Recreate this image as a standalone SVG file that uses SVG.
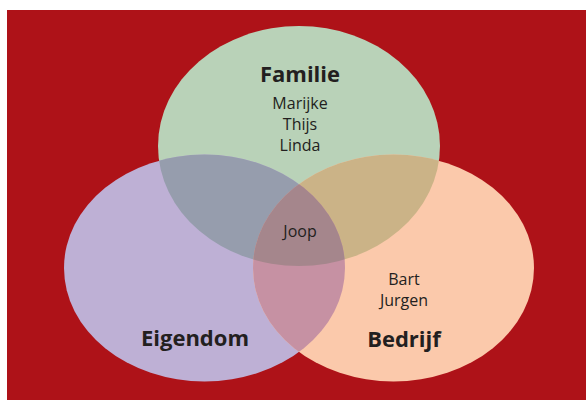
<svg xmlns="http://www.w3.org/2000/svg" width="586" height="400" viewBox="0 0 586 400">
  <style>
    .name { font-family: "Open Sans", "Noto Sans", sans-serif; font-size: 16px; fill: #231F20; text-anchor: middle; }
    .title { font-family: "Open Sans", "Noto Sans", sans-serif; font-size: 22px; font-weight: bold; fill: #231F20; text-anchor: middle; }
  </style>
  <defs>
    <ellipse id="eG" cx="299" cy="146" rx="141" ry="120"/>
    <ellipse id="eP" cx="204.5" cy="268" rx="140.5" ry="113.5"/>
    <ellipse id="eO" cx="393.5" cy="268" rx="140.5" ry="113.5"/>
    <clipPath id="cG"><use href="#eG"/></clipPath>
    <clipPath id="cP"><use href="#eP"/></clipPath>
    <clipPath id="cO"><use href="#eO"/></clipPath>
  </defs>
  <rect x="7" y="10" width="579" height="390" fill="#AE1218"/>
  <g id="familie">
    <use href="#eG" fill="#B9D2B8"/>
  </g>
  <g id="eigendom">
    <use href="#eP" fill="#BEB0D5"/>
  </g>
  <g id="bedrijf">
    <use href="#eO" fill="#FBC9AB"/>
  </g>
  <g id="overlaps">
    <use href="#eP" fill="#969DAD" clip-path="url(#cG)"/>
    <use href="#eO" fill="#CBB387" clip-path="url(#cG)"/>
    <use href="#eO" fill="#C691A3" clip-path="url(#cP)"/>
    <g clip-path="url(#cG)"><use href="#eO" fill="#A5868C" clip-path="url(#cP)"/></g>
  </g>
  <g id="labels">
    <text class="title" x="300" y="82">Familie</text>
    <text class="name" x="300" y="108.5">Marijke</text>
    <text class="name" x="300" y="129.5">Thijs</text>
    <text class="name" x="300" y="150.5">Linda</text>
    <text class="name" x="300" y="237">Joop</text>
    <text class="name" x="404" y="285">Bart</text>
    <text class="name" x="404" y="306">Jurgen</text>
    <text class="title" x="195" y="346">Eigendom</text>
    <text class="title" x="404" y="347">Bedrijf</text>
  </g>
</svg>
